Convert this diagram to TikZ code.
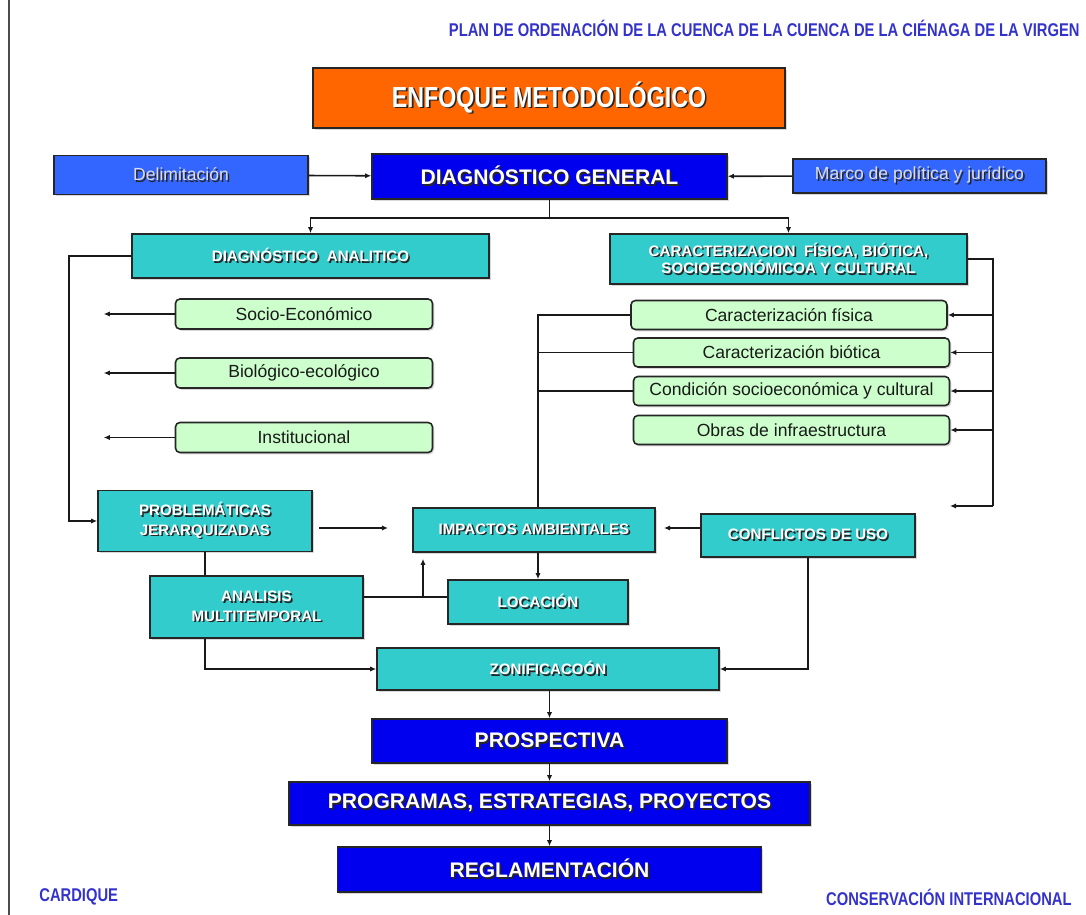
\documentclass[tikz,border=0pt]{standalone}
\usepackage{fontspec}
\setmainfont{Liberation Sans}
\newfontfamily\narrowfont{Liberation Sans}[FakeStretch=0.8]
\usepackage{xcolor}
\usepackage{tikz}
\usetikzlibrary{calc,positioning,shadows,arrows.meta}

\definecolor{orangeC}{HTML}{FF6600}
\definecolor{navyC}{HTML}{0000EE}
\definecolor{midblueC}{HTML}{3366FF}
\definecolor{tealC}{HTML}{33CCCC}
\definecolor{mintC}{HTML}{CCFFCC}
\definecolor{headC}{HTML}{3333CC}
\definecolor{paleC}{HTML}{DCDCEC}

% white text with a dark shadow
\newcommand{\shtxt}[1]{\leavevmode\rlap{\hspace{0.9pt}\raisebox{-0.9pt}{\color{black!85}#1}}#1}

\tikzset{
  base/.style={draw=black!85, line width=0.9pt, inner sep=0pt, align=center,
    drop shadow={shadow xshift=1pt, shadow yshift=-1pt, fill=black!30}},
  bigbox/.style={base, fill=navyC, text=white, font=\bfseries\fontsize{12}{14}\selectfont},
  sidebox/.style={base, fill=midblueC, text=paleC, font=\fontsize{10}{12}\selectfont},
  tealbox/.style={base, fill=tealC, text=white, font=\bfseries\fontsize{8.6}{11}\selectfont},
  mintbox/.style={base, fill=mintC, text=black!90, rounded corners=2.5pt,
    font=\fontsize{10}{12}\selectfont},
  arr/.style={-{Latex[length=3.5pt,width=3pt]}, line width=0.9pt, black!90},
  lin/.style={line width=0.9pt, black!90},
  sign/.style={text=headC, font=\narrowfont\bfseries\fontsize{10.5}{12}\selectfont, inner sep=0pt}
}

\begin{document}
\begin{tikzpicture}[x=0.2mm, y=-0.2mm]
\useasboundingbox (0,0) rectangle (1086,915);

%Frame line and signatures
\draw[black!70, line width=0.8pt] (9,0) -- (9,915);
\node[sign, anchor=east] (plan) at (1080,28) {PLAN DE ORDENACIÓN DE LA CUENCA DE LA CUENCA DE LA CIÉNAGA DE LA VIRGEN};
\node[sign, anchor=west] (cardique) at (39,897) {CARDIQUE};
\node[sign, anchor=east] (consint) at (1072,897) {CONSERVACIÓN INTERNACIONAL};

%Title
\node[base, fill=orangeC, text=white, minimum width=94.4mm, minimum height=12mm,
  font=\narrowfont\bfseries\fontsize{16.5}{18}\selectfont] (enfoque) at (549,98) {\shtxt{ENFOQUE METODOLÓGICO}};

%Diagnostico general
\node[sidebox, minimum width=50.8mm, minimum height=7.8mm] (delim) at (181,175) {\shtxt{Delimitación}};
\node[bigbox, minimum width=71mm, minimum height=9mm] (diaggen) at (549.5,176.5) {\shtxt{DIAGNÓSTICO GENERAL}};
\node[sidebox, minimum width=50.6mm, minimum height=6.8mm] (marco) at (919.5,176) {\shtxt{Marco de política y jurídico}};
\draw[arr] (delim) -- (diaggen);
\draw[arr] (marco) -- (diaggen);

\node[tealbox, minimum width=71.4mm, minimum height=8.8mm] (diagan) at (310.5,256) {\shtxt{DIAGNÓSTICO\ \ ANALITICO}};
\node[tealbox, minimum width=71.4mm, minimum height=10mm] (caract) at (788.5,259)
  {\shtxt{CARACTERIZACION\ \ FÍSICA, BIÓTICA,}\\[-1pt]\shtxt{SOCIOECONÓMICOA Y CULTURAL}};
\draw[lin] (diaggen.south) -- ++(0,18) coordinate (dgbus);
\draw[arr] (dgbus) -| (diagan.north);
\draw[arr] (dgbus) -| (caract.north);

%Left column
\node[mintbox, minimum width=51.4mm, minimum height=6mm] (socio) at (304,314) {Socio-Económico};
\node[mintbox, minimum width=51.4mm, minimum height=6mm] (biolo) at (304,373) {Biológico-ecológico};
\node[mintbox, minimum width=51.4mm, minimum height=6mm] (instit) at (304,437.5) {Institucional};
\foreach \n in {socio,biolo,instit}
  \draw[arr] (\n.west) -- ++(-71,0);

%Right column
\node[mintbox, minimum width=63.2mm, minimum height=5.8mm] (cfis) at (789,315) {Caracterización física};
\node[mintbox, minimum width=63.2mm, minimum height=5.8mm] (cbio) at (791.5,352.5) {Caracterización biótica};
\node[mintbox, minimum width=63.2mm, minimum height=5.8mm] (csoc) at (791.5,391) {Condición socioeconómica y cultural};
\node[mintbox, minimum width=63.2mm, minimum height=5.8mm] (obras) at (791.5,430) {Obras de infraestructura};
\coordinate (rtop) at (993,259);
\coordinate (rbot) at (993,506);
\draw[lin] (caract.east) -- (rtop) -- (rbot);
\draw[arr] (rbot) -- ++(-43,0);
\foreach \n in {cfis,cbio,csoc,obras}
  \draw[arr] (\n.east -| rtop) -- (\n.east);

%Lower blocks
\node[tealbox, minimum width=42.8mm, minimum height=12.2mm] (probl) at (205,521) {\shtxt{PROBLEMÁTICAS}\\\shtxt{JERARQUIZADAS}};
\node[tealbox, minimum width=48.4mm, minimum height=8.8mm] (impact) at (534,530) {\shtxt{IMPACTOS AMBIENTALES}};
\node[tealbox, minimum width=42.8mm, minimum height=8.6mm] (confl) at (808,535.5) {\shtxt{CONFLICTOS DE USO}};
\node[tealbox, minimum width=42.6mm, minimum height=12.4mm] (analisis) at (256.5,607) {\shtxt{ANALISIS}\\\shtxt{MULTITEMPORAL}};
\node[tealbox, minimum width=36mm, minimum height=8.8mm] (locac) at (538,602) {\shtxt{LOCACIÓN}};
\node[tealbox, minimum width=68.4mm, minimum height=8.4mm] (zonif) at (548,669) {\shtxt{ZONIFICACOÓN}};

\draw[arr] (diagan.west) -- ++(-62,0) |- (probl.west);
\draw[lin] (cfis.west) -- (cfis.west -| locac.north) -- (impact.north -| locac.north);
\draw[lin] (cbio.west) -- (cbio.west -| locac.north);
\draw[lin] (csoc.west) -- (csoc.west -| locac.north);

\coordinate (pjout) at (319,528);
\coordinate (pjtip) at (388,528);
\draw[arr] (pjout) -- (pjtip);
\coordinate (cftip) at (664,528);
\draw[arr] (confl.west |- cftip) -- (cftip);

\draw[arr] (impact.south -| locac.north) -- (locac.north);
\draw[lin] (probl.south) -- (probl.south |- analisis.north);
\coordinate (amjoin) at (423,597);
\draw[lin] (analisis.east |- amjoin) -- (locac.west |- amjoin);
\draw[arr, shorten >=1.2mm] (amjoin) -- (amjoin |- impact.south);
\draw[arr] (analisis.south -| probl.south) |- (zonif.west);
\draw[arr] (confl.south) |- (zonif.east);

%Final steps
\node[bigbox, minimum width=71mm, minimum height=8.8mm] (prosp) at (549.5,741) {\shtxt{PROSPECTIVA}};
\node[bigbox, minimum width=104.2mm, minimum height=8.6mm] (progr) at (549.5,803.5) {\shtxt{PROGRAMAS, ESTRATEGIAS, PROYECTOS}};
\node[bigbox, minimum width=84.8mm, minimum height=9mm] (regla) at (549.5,869.5) {\shtxt{REGLAMENTACIÓN}};
\draw[arr] (zonif.south -| prosp.north) -- (prosp.north);
\draw[arr] (prosp) -- (progr);
\draw[arr] (progr) -- (regla);

\end{tikzpicture}
\end{document}
